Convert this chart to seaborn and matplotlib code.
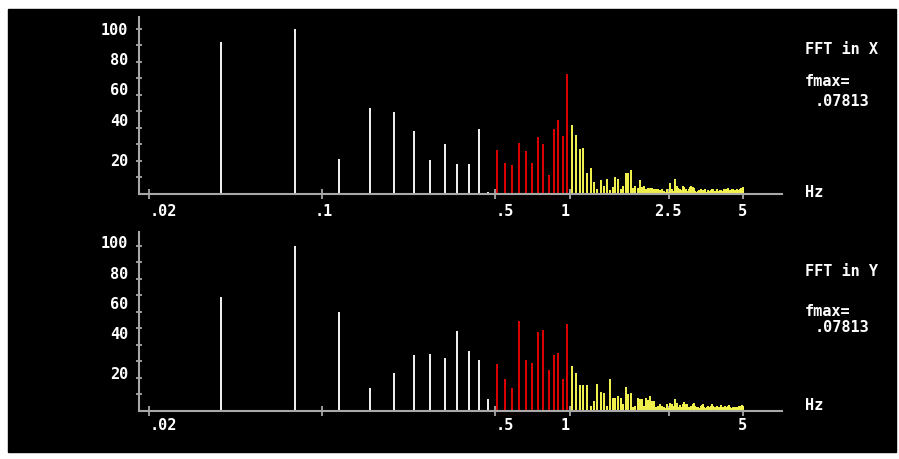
import numpy as np
import matplotlib
matplotlib.use("Agg")
import matplotlib.pyplot as plt
import matplotlib.ticker as mticker
import matplotlib.transforms as mtransforms
from matplotlib.patches import Rectangle
import seaborn as sns

# ---- data -------------------------------------------------------
fmax = 0.078125               # peak frequency, printed as .07813
freq_step = fmax / 2          # FFT bin width (Hz)
n_bins = 128
freqs = freq_step * np.arange(1, n_bins + 1)

# X channel, amplitude in % of peak
x_white = [92, 100, 21, 52, 49.5, 38, 20.4, 30.3, 18, 18, 39.6, 1.5]
x_red = [26.7, 19, 17.4, 31.1, 25.9, 18.8, 34.3, 30.3, 11.3, 39.6, 45, 35.2, 72.7]
x_yellow = [42, 36, 27, 28, 13, 15.6, 7.5, 2.8, 8.3, 5,
            9, 2.4, 4.4, 10, 9, 3, 4.8, 13, 13, 14.3,
            3.4, 4.8, 3.6, 8.3, 4, 4.8, 3, 3.8, 3.4, 3.4,
            2.8, 3.2, 3.2, 2.5, 2.8, 2, 1.5, 2.8, 1.5, 6.9,
            2.8, 2, 8.9, 4.8, 3.5, 3.2, 2.5, 4.8, 4, 3,
            2, 3, 4, 4.8, 4.4, 3.5, 2, 1.2, 1.6, 2.4,
            3, 1.4, 2.2, 1.8, 2.8, 1.2, 2.6, 2.0, 1.5, 2.4,
            2.8, 3.2, 2, 1.6, 2.8, 1.8, 1.4, 2.2, 2.6, 2.0,
            1.6, 3, 2.2, 2.8, 2.4, 3.4, 2, 2.6, 1.8, 2.8,
            3.2, 2.4, 1.6, 2.2, 2.0, 2.8, 1.8, 2.4, 3.0, 3.4,
            3.8, 4.2, 3.2]

# Y channel
y_white = [69, 100, 59.7, 13.7, 23, 33.7, 34.5, 32.3, 48.2, 36.1, 30.7, 7.1]
y_red = [28.2, 19.2, 13.7, 54.4, 30.7, 29.2, 47.6, 49, 24.6, 33.9, 35.3, 19.2, 52.8]
y_yellow = [27, 23.2, 15.5, 15.5, 15.5, 3, 6.2, 16.1, 11.5, 11.1,
            3, 19.2, 7.7, 7.7, 9.1, 7.7, 4.4, 14.7, 10.3, 11.1,
            2.2, 3, 7.7, 7.3, 7.5, 3, 7.7, 6.7, 9.1, 6.2,
            6, 2.6, 3.2, 4, 3, 2.6, 2, 4, 2, 4.8,
            4, 3, 7, 5, 2.6, 3.4, 2.6, 4.4, 5.2, 4.4,
            4, 2.4, 2, 3, 4.2, 4.6, 3.2, 2.2, 2.6, 2.0,
            2.8, 3.6, 4.4, 2.4, 2.0, 2.6, 3.2, 2.2, 1.8, 3.0,
            4.4, 3.2, 2.4, 2.0, 2.8, 2.4, 1.8, 2.6, 3.4, 2.2,
            2.6, 2.0, 3.0, 2.4, 2.2, 2.8, 3.4, 2.6, 2.0, 1.8,
            2.4, 2.0, 2.6, 2.2, 1.8, 2.4, 2.0, 2.8, 3.2, 3.0,
            3.4, 3.2, 2.6]

panels = ["X", "Y"]
amps = {"X": x_white + x_red + x_yellow, "Y": y_white + y_red + y_yellow}

xticks = [0.02, 0.1, 0.5, 1, 2.5, 5]
xlabels = {"X": [".02", ".1", ".5", "1", "2.5", "5"],
           "Y": [".02", "", ".5", "1", "", "5"]}
ylabels = ["100", "80", "60", "40", "20"]

# ---- style ------------------------------------------------------
sns.set_theme(style="dark", rc={"axes.facecolor": "black",
                                "axes.edgecolor": "#aaaaaa",
                                "axes.grid": False})
plt.rcParams["font.family"] = ["DejaVu Sans Mono", "DejaVu Sans"]

WHITE, RED, YELLOW, GREY = "#f4f4f4", "#e00000", "#f5f550", "#a8a8a8"
band_lo, band_hi = 0.5, 1.0
stem_colors = np.where(freqs < band_lo, WHITE, np.where(freqs < band_hi, RED, YELLOW))

# layout (pixels of a 899x459 canvas)
W, H = 899, 459
fig = plt.figure(figsize=(W / 100, H / 100), dpi=100, facecolor="white")
fig.patches.append(Rectangle((8 / W, 7 / H), 888 / W, 443 / H,
                             transform=fig.transFigure, color="black", zorder=-10))

ax_boxes = {"X": (139.3, 16.7, 194.0), "Y": (139.3, 232.3, 411.0)}
ylab_pos = {"X": [99, 80.6, 62.4, 43.8, 19.6], "Y": [101.5, 82.9, 64.7, 46.6, 21.8]}
xlab_pos = [0.0229, 0.1017, 0.547, 0.955, 2.48, 4.94]
xlab_row = {"X": 212, "Y": 425}
title_rows = {"X": (50, 82, 101, 192), "Y": (272, 312, 327, 405)}
font = dict(color="white", fontweight="bold", fontsize=11)
px_per_unit = 1.652

for p in panels:
    left, top, base = ax_boxes[p]
    ax = fig.add_axes([left / W, 1 - base / H, (782 - left) / W, (base - top) / H])
    ax.set_facecolor("none")
    ax.vlines(freqs, 0, amps[p], colors=stem_colors, linewidth=1.4)
    ax.set_xscale("log")
    ax.set_xlim(0.01834, 7.158)
    ax.set_ylim(0, (base - top) / px_per_unit)
    ax.set_xticks(xticks)
    ax.set_xticklabels([])
    ax.xaxis.set_minor_locator(mticker.NullLocator())
    ax.set_yticks(np.arange(10, 101, 10))
    ax.set_yticklabels([])
    ax.tick_params(axis="x", direction="inout", length=7, width=1.3, color=GREY, bottom=True)
    ax.tick_params(axis="y", direction="inout", length=5, width=1.3, color=GREY, left=True)
    sns.despine(ax=ax)
    for s in ("left", "bottom"):
        ax.spines[s].set_color(GREY)
        ax.spines[s].set_linewidth(1.5)

    # y labels sit on the old text-grid rows, not exactly on the ticks
    ytr = mtransforms.blended_transform_factory(fig.transFigure, ax.transData)
    for lab, yv in zip(ylabels, ylab_pos[p]):
        ax.text(128 / W, yv, lab, transform=ytr, ha="right", va="center",
                clip_on=False, **font)
    # x labels
    xtr = mtransforms.blended_transform_factory(ax.transData, fig.transFigure)
    for lab, xv in zip(xlabels[p], xlab_pos):
        if lab:
            ax.text(xv, 1 - xlab_row[p] / H, lab, transform=xtr, ha="center",
                    va="center", clip_on=False, **font)

    r_title, r_fm, r_val, r_hz = title_rows[p]
    fig.text(805 / W, 1 - r_title / H, f"FFT in {p}", ha="left", va="center", **font)
    fig.text(805 / W, 1 - r_fm / H, "fmax=", ha="left", va="center", **font)
    fig.text(815 / W, 1 - r_val / H, ".07813", ha="left", va="center", **font)
    fig.text(805 / W, 1 - r_hz / H, "Hz", ha="left", va="center", **font)

fig.savefig("out.png", dpi=100, facecolor="white")
